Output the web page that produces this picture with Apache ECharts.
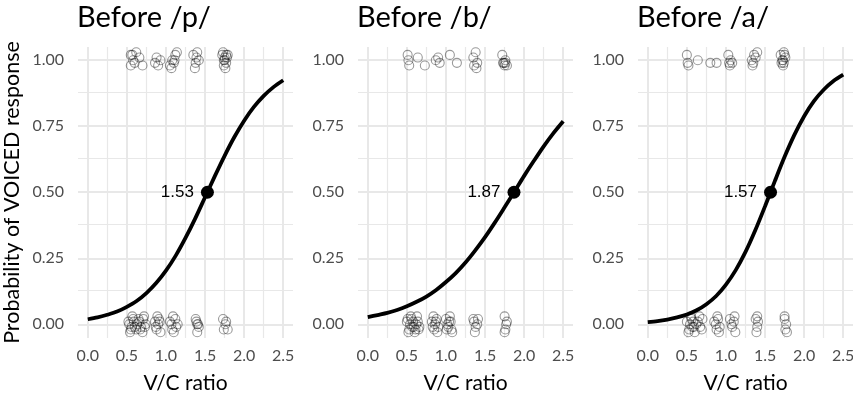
<!DOCTYPE html>
<html>
<head>
<meta charset="utf-8">
<script src="https://cdn.jsdelivr.net/npm/echarts@6/dist/echarts.min.js"></script>
<style>html,body{margin:0;padding:0;background:#fff}#c{width:853px;height:397px}</style>
</head>
<body>
<div id="c"></div>
<script>
// ---------- data ----------
const panelTitles = ['Before /p/', 'Before /b/', 'Before /a/'];
const thresholds = [1.53, 1.87, 1.57];
const xTicks = [0, 0.5, 1, 1.5, 2, 2.5];
const yTicks = [0, 0.25, 0.5, 0.75, 1];
const xMinor = [0.25, 0.75, 1.25, 1.75, 2.25];
const yMinor = [0.125, 0.375, 0.625, 0.875];

const curveX = [0, 0.125, 0.25, 0.375, 0.5, 0.625, 0.75, 0.875, 1, 1.125, 1.25, 1.375, 1.5, 1.625, 1.75, 1.875, 2, 2.125, 2.25, 2.375, 2.5];
const curveP = [0.019, 0.026, 0.036, 0.048, 0.066, 0.088, 0.118, 0.156, 0.203, 0.260, 0.327, 0.401, 0.481, 0.561, 0.638, 0.709, 0.771, 0.823, 0.865, 0.898, 0.924];
const curveB = [0.027, 0.035, 0.043, 0.054, 0.068, 0.085, 0.105, 0.130, 0.160, 0.194, 0.234, 0.280, 0.330, 0.385, 0.443, 0.502, 0.562, 0.619, 0.674, 0.724, 0.769];
const curveA = [0.008, 0.012, 0.018, 0.026, 0.037, 0.053, 0.076, 0.107, 0.150, 0.205, 0.274, 0.356, 0.447, 0.542, 0.634, 0.717, 0.788, 0.845, 0.888, 0.921, 0.945];

const respP = [
  [0.57,1.02],[0.60,0.99],[0.55,0.98],[0.66,1.01],[0.70,0.98],[0.62,1.03],[0.58,1.00],[0.55,1.02],
  [0.86,0.99],[0.90,0.98],[0.93,1.00],[0.88,1.01],
  [1.05,0.98],[1.08,1.00],[1.12,1.02],[1.10,0.99],[1.14,1.03],[1.07,0.97],[1.11,1.00],
  [1.35,1.02],[1.38,0.99],[1.42,1.00],[1.37,0.97],[1.40,1.03],[1.39,1.01],
  [1.72,1.02],[1.75,1.00],[1.78,1.01],[1.74,0.98],[1.77,0.99],[1.73,1.03],[1.76,0.97],[1.79,1.02],[1.75,1.01],[1.74,1.00],[1.77,1.02],
  [0.52,0.01],[0.55,-0.02],[0.58,0.02],[0.60,-0.01],[0.63,0.00],[0.54,-0.03],[0.57,0.03],[0.62,-0.02],[0.66,0.01],[0.68,-0.01],[0.71,0.02],[0.70,-0.03],[0.74,0.00],[0.72,0.03],[0.53,0.00],[0.65,0.02],[0.59,0.01],[0.67,-0.02],[0.56,-0.01],[0.73,-0.01],
  [0.86,0.01],[0.88,-0.02],[0.91,0.02],[0.93,-0.03],[0.90,0.00],[0.87,-0.01],[0.89,0.03],[0.92,0.01],
  [1.05,0.01],[1.08,-0.02],[1.12,0.02],[1.15,0.00],[1.10,-0.03],[1.13,-0.01],[1.09,0.03],[1.07,0.00],
  [1.38,0.02],[1.40,0.00],[1.42,-0.01],[1.40,-0.03],[1.39,0.01],[1.41,0.00],
  [1.73,0.02],[1.76,0.00],[1.74,-0.02],[1.79,-0.02],[1.77,0.01]
];
const respB = [
  [0.52,1.00],[0.53,0.98],[0.51,1.02],[0.64,1.01],[0.73,0.98],[0.87,1.00],[0.90,1.01],[0.92,0.99],[1.05,1.02],[1.14,0.99],
  [1.35,1.01],[1.38,1.03],[1.40,0.99],[1.36,0.98],[1.39,0.97],
  [1.72,1.02],[1.74,0.99],[1.76,1.00],[1.78,0.98],[1.75,0.98],[1.73,0.99],[1.76,0.99],
  [0.50,0.01],[0.53,-0.02],[0.56,0.02],[0.59,-0.01],[0.62,0.00],[0.52,-0.03],[0.55,0.03],[0.60,-0.03],[0.64,0.01],[0.66,-0.01],[0.58,0.01],[0.63,0.03],[0.54,0.00],[0.61,-0.02],[0.57,-0.01],[0.51,0.02],[0.65,-0.02],
  [0.82,0.01],[0.85,-0.02],[0.88,0.02],[0.90,-0.01],[0.86,0.00],[0.84,0.03],[0.89,-0.03],[0.87,0.01],[0.83,-0.01],
  [1.00,0.02],[1.03,-0.01],[1.06,0.01],[1.08,-0.03],[1.02,0.00],[1.05,0.03],[1.07,-0.02],[1.04,0.01],[1.01,-0.02],
  [1.35,0.02],[1.38,-0.01],[1.40,0.00],[1.37,-0.03],[1.41,0.02],[1.36,0.01],
  [1.75,0.03],[1.77,0.00],[1.76,-0.02],[1.78,0.01],[1.75,-0.03]
];
const respA = [
  [0.50,1.02],[0.51,0.99],[0.52,0.98],[0.64,1.00],[0.80,0.99],[0.88,0.99],
  [1.03,1.02],[1.06,1.00],[1.04,0.99],[1.08,0.99],[1.05,0.98],
  [1.33,1.00],[1.36,1.02],[1.38,1.01],[1.35,0.99],[1.34,0.98],[1.40,1.03],
  [1.70,1.02],[1.72,1.00],[1.74,0.99],[1.76,1.01],[1.73,0.98],[1.75,1.02],[1.71,0.99],[1.74,1.03],[1.73,1.00],
  [0.50,0.01],[0.53,-0.02],[0.56,0.02],[0.59,-0.01],[0.62,0.00],[0.52,-0.03],[0.55,0.03],[0.60,-0.03],[0.64,0.01],[0.67,-0.01],[0.58,0.01],[0.70,0.02],[0.54,0.00],[0.69,-0.02],[0.57,-0.01],[0.66,0.03],
  [0.85,0.01],[0.88,-0.02],[0.90,0.02],[0.92,-0.01],[0.87,0.00],[0.89,0.03],[0.91,-0.03],
  [1.05,0.02],[1.08,-0.01],[1.10,0.01],[1.12,-0.03],[1.07,0.00],[1.11,0.03],
  [1.38,0.02],[1.40,-0.01],[1.41,0.01],[1.39,-0.03],[1.40,0.03],
  [1.75,0.02],[1.77,0.00],[1.76,-0.02],[1.78,-0.03],[1.75,0.03]
];
const curves = [curveP, curveB, curveA];
const responses = [respP, respB, respA];

// ---------- chart ----------
const uiFont = 'Lato, Roboto, sans-serif';
const lefts = [78, 358, 638];
const chart = echarts.init(document.getElementById('c'), null, {renderer: 'canvas'});
const grids = [], xAxes = [], yAxes = [], series = [], titles = [];
lefts.forEach((l, i) => {
  grids.push({left: l, top: 47, width: 215, height: 291, outerBoundsMode: 'none', containLabel: false});
  titles.push({text: panelTitles[i], left: l - 1, top: 3, padding: 0,
    textStyle: {fontFamily: uiFont, fontSize: 29, fontWeight: 'normal', color: '#000'}});
  xAxes.push({type: 'value', gridIndex: i, min: -0.125, max: 2.625,
    axisLine: {show: false}, axisTick: {show: false}, splitLine: {show: false},
    axisLabel: {customValues: xTicks, formatter: v => v.toFixed(1), color: '#4D4D4D', fontSize: 16, fontFamily: uiFont, margin: 10},
    name: 'V/C ratio', nameLocation: 'middle', nameGap: 35,
    nameTextStyle: {fontFamily: uiFont, fontSize: 21, color: '#000'}});
  yAxes.push({type: 'value', gridIndex: i, min: -0.052, max: 1.05,
    axisLine: {show: false}, axisTick: {show: false}, splitLine: {show: false},
    axisLabel: {customValues: yTicks, formatter: v => v.toFixed(2), color: '#4D4D4D', fontSize: 16, fontFamily: uiFont, margin: 14},
    name: i === 0 ? 'Probability of VOICED response' : '', nameLocation: 'middle', nameGap: 55,
    nameTextStyle: {fontFamily: uiFont, fontSize: 21.5, color: '#000'}});
  const gl = (arr, key, w) => arr.map(v => ({[key]: v, lineStyle: {width: w}}));
  series.push({type: 'line', xAxisIndex: i, yAxisIndex: i, data: [], z: 0, silent: true,
    markLine: {silent: true, z: 0, symbol: ['none', 'none'], label: {show: false},
      lineStyle: {color: '#E8E8E8', type: 'solid'}, animation: false,
      data: [].concat(gl(xMinor, 'xAxis', 1.2), gl(yMinor, 'yAxis', 1.2), gl(xTicks, 'xAxis', 2), gl(yTicks, 'yAxis', 2))}});
  series.push({type: 'scatter', xAxisIndex: i, yAxisIndex: i, data: responses[i], symbol: 'circle', symbolSize: 9, z: 2,
    itemStyle: {color: 'rgba(0,0,0,0)', borderColor: 'rgba(0,0,0,0.4)', borderWidth: 1.1, opacity: 1}});
  series.push({type: 'line', xAxisIndex: i, yAxisIndex: i, data: curveX.map((x, k) => [x, curves[i][k]]),
    smooth: 0.3, showSymbol: false, z: 3, lineStyle: {color: '#000', width: 3.8}});
  series.push({type: 'scatter', xAxisIndex: i, yAxisIndex: i, data: [[thresholds[i], 0.5]], symbolSize: 13, z: 4,
    itemStyle: {color: '#000', opacity: 1},
    label: {show: true, position: 'left', distance: 7, formatter: thresholds[i].toFixed(2),
      fontFamily: '"Liberation Sans",Arial,sans-serif', fontSize: 17, color: '#000', textBorderWidth: 0}});
});
chart.setOption({animation: false, title: titles, grid: grids, xAxis: xAxes, yAxis: yAxes, series: series});
</script>
</body>
</html>
